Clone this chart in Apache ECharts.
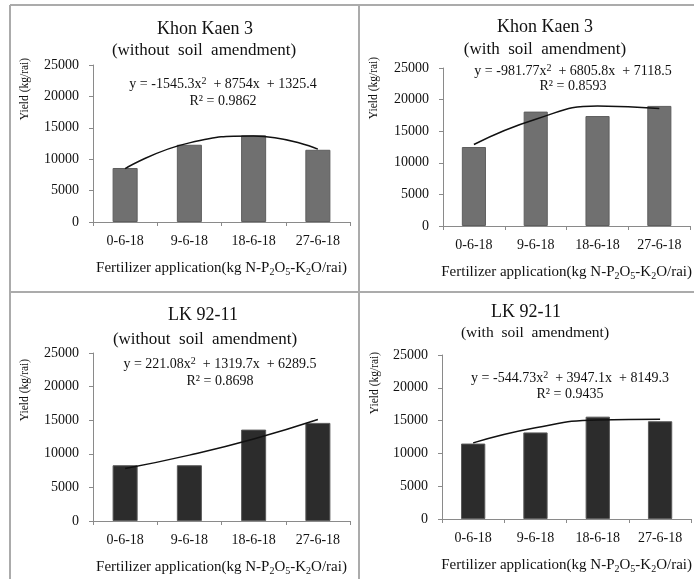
<!DOCTYPE html>
<html><head><meta charset="utf-8">
<script src="https://cdn.jsdelivr.net/npm/echarts@6/dist/echarts.min.js"></script>
<style>html,body{margin:0;padding:0;background:#fff}#c{width:694px;height:579px}</style>
</head><body><div id="c"></div><script>
const categories = ['0-6-18', '9-6-18', '18-6-18', '27-6-18'];
const yMax = 25000;
const yStep = 5000;

const kk3WithoutBars  = [8600, 12300, 13800, 11500];
const kk3WithoutTrend = [8500, 12600, 13700, 11600];
const kk3WithBars     = [12500, 18100, 17400, 19000];
const kk3WithTrend    = [12900, 16900, 19000, 18600];
const lkWithoutBars   = [8300, 8300, 13600, 14600];
const lkWithoutTrend  = [7800, 9800, 12200, 15100];
const lkWithBars      = [11500, 13200, 15600, 14900];
const lkWithTrend     = [11600, 13900, 15100, 15200];

const titleLine1 = ['Khon Kaen 3', 'Khon Kaen 3', 'LK 92-11', 'LK 92-11'];
const titleLine2 = ['(without  soil  amendment)', '(with  soil  amendment)', '(without  soil  amendment)', '(with  soil  amendment)'];
const equations = [
  'y = -1545.3x{sup|2}  + 8754x  + 1325.4',
  'y = -981.77x{sup|2}  + 6805.8x  + 7118.5',
  'y = 221.08x{sup|2}  + 1319.7x  + 6289.5',
  'y = -544.73x{sup|2}  + 3947.1x  + 8149.3'
];
const r2Texts = ['R² = 0.9862', 'R² = 0.8593', 'R² = 0.8698', 'R² = 0.9435'];
const yName = 'Yield (kg/rai)';
const xName = 'Fertilizer application(kg N-P{sub|2}O{sub|5}-K{sub|2}O/rai)';

const barSets = [kk3WithoutBars, kk3WithBars, lkWithoutBars, lkWithBars];
const trendSets = [kk3WithoutTrend, kk3WithTrend, lkWithoutTrend, lkWithTrend];

const FF = '"Liberation Serif", "Times New Roman", serif';
const TXT = '#111';
const AX = '#8a8a8a';

const grids = [
  {left: 93, top: 65, width: 257, height: 157},
  {left: 443, top: 68, width: 254, height: 158},
  {left: 93, top: 353, width: 257, height: 168},
  {left: 442, top: 355, width: 255, height: 164}
];
const barColors = ['#707070', '#707070', '#2c2c2c', '#2c2c2c'];
const barBorders = ['#5e5e5e', '#5e5e5e', '#5a5a5a', '#5a5a5a'];
const titlePos = [
  [[205, 29, 18], [204, 51, 17]],
  [[545, 27, 18], [545, 50, 17]],
  [[203, 315, 18], [205, 340, 17]],
  [[526, 312, 18], [535, 333, 15.5]]
];
const eqPos = [[223, 84, 101], [573, 71, 86], [220, 364, 381], [570, 378, 394]];
const yNamePos = [[25, 89], [374, 88], [25, 390], [375, 383]];

const xAxes = [], yAxes = [], series = [], graphics = [];
grids.forEach((g, i) => {
  xAxes.push({
    type: 'category', gridIndex: i, data: categories,
    axisLine: {lineStyle: {color: AX, width: 1}},
    axisTick: {show: true, length: 4, lineStyle: {color: AX}},
    axisLabel: {fontFamily: FF, fontSize: 14, color: TXT, margin: 12},
    name: xName, nameLocation: 'middle', nameGap: 38,
    nameTextStyle: {fontFamily: FF, fontSize: 15, color: TXT, lineHeight: 17,
      rich: {sub: {fontFamily: FF, fontSize: 10, lineHeight: 10, verticalAlign: 'bottom', color: TXT}}}
  });
  yAxes.push({
    type: 'value', gridIndex: i, min: 0, max: yMax, interval: yStep,
    splitLine: {show: false},
    axisLine: {show: true, lineStyle: {color: AX, width: 1}},
    axisTick: {show: true, length: 4, lineStyle: {color: AX}},
    axisLabel: {fontFamily: FF, fontSize: 14, color: TXT, margin: 14, formatter: v => String(v)}
  });
  series.push({
    type: 'bar', xAxisIndex: i, yAxisIndex: i, data: barSets[i], barWidth: '39%',
    itemStyle: {color: barColors[i], borderColor: barBorders[i], borderWidth: 1},
    animation: false
  });
  series.push({
    type: 'line', xAxisIndex: i, yAxisIndex: i, data: trendSets[i], smooth: true,
    symbol: 'none', lineStyle: {color: '#111', width: 1.5}, z: 5, animation: false
  });
  titlePos[i].forEach((p, k) => {
    graphics.push({type: 'text', x: p[0], y: p[1], silent: true,
      style: {text: k === 0 ? titleLine1[i] : titleLine2[i], fontFamily: FF, fontSize: p[2], fill: TXT,
        align: 'center', verticalAlign: 'middle'}});
  });
  const e = eqPos[i];
  graphics.push({type: 'text', x: e[0], y: e[1], silent: true, z: 10,
    style: {text: equations[i], fontFamily: FF, fontSize: 14, fill: TXT, align: 'center', verticalAlign: 'middle',
      lineHeight: 16,
      rich: {sup: {fontFamily: FF, fontSize: 10, lineHeight: 10, verticalAlign: 'top', fill: TXT}}}});
  graphics.push({type: 'text', x: e[0], y: e[2], silent: true, z: 10,
    style: {text: r2Texts[i], fontFamily: FF, fontSize: 14, fill: TXT, align: 'center', verticalAlign: 'middle'}});
  const yp = yNamePos[i];
  graphics.push({type: 'text', x: yp[0], y: yp[1], rotation: Math.PI / 2, silent: true,
    style: {text: yName, fontFamily: FF, fontSize: 11.5, fill: TXT, align: 'center', verticalAlign: 'middle'}});
});

const frame = [[10, 5, 694, 5], [10, 5, 10, 579], [359, 5, 359, 579], [10, 292, 694, 292]];
frame.forEach(f => graphics.push({type: 'line', silent: true, z: -1,
  shape: {x1: f[0], y1: f[1], x2: f[2], y2: f[3]}, style: {stroke: '#ababab', lineWidth: 2}}));

const chart = echarts.init(document.getElementById('c'), null, {renderer: 'canvas'});
chart.setOption({
  backgroundColor: '#fff',
  animation: false,
  grid: grids.map(g => Object.assign({containLabel: false}, g)),
  xAxis: xAxes,
  yAxis: yAxes,
  series: series,
  graphic: graphics
});
</script></body></html>
